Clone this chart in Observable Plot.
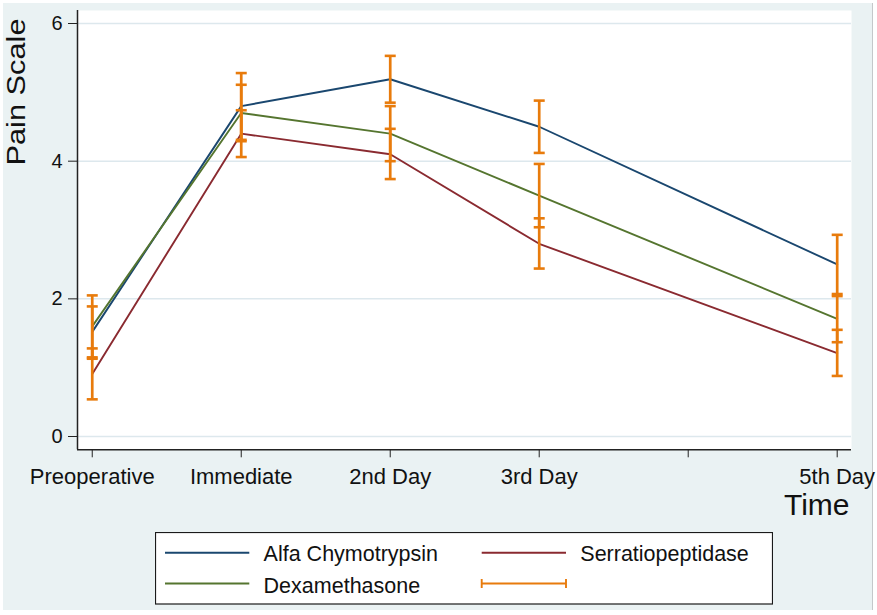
<!DOCTYPE html>
<html>
<head>
<meta charset="utf-8">
<script src="https://cdn.jsdelivr.net/npm/d3@7"></script>
<script src="https://cdn.jsdelivr.net/npm/@observablehq/plot@0.6"></script>
<style>
  html, body { margin: 0; padding: 0; background: #ffffff; }
  body { width: 877px; height: 615px; position: relative; overflow: hidden; font-family: "Liberation Sans", Arial, sans-serif; }
  #bg { position: absolute; left: 3px; top: 3px; width: 869px; height: 607px; background: #eaf2f3; border-right: 1px solid #c4c8ca; }
  #chart { position: absolute; left: 0; top: 0; }
  #legend { position: absolute; left: 155px; top: 532px; }
</style>
</head>
<body>
<div id="bg"></div>
<div id="chart"></div>
<div id="legend"></div>
<script>
// ---- data ----
const days = [0, 1, 2, 3, 5];
const tickDays = [0, 1, 2, 3, 4, 5];
const tickLabels = ["Preoperative", "Immediate", "2nd Day", "3rd Day", "", "5th Day"];
const yTicks = [0, 2, 4, 6];

const seriesNames = ["Alfa Chymotrypsin", "Serratiopeptidase", "Dexamethasone"];
const seriesColors = ["#1a476f", "#8a2a30", "#55752f"];
const errColor = "#e87b0c";

const alfaMean  = [1.52, 4.80, 5.19, 4.50, 2.50];
const alfaLow   = [1.15, 4.31, 4.85, 4.12, 2.07];
const alfaHigh  = [1.89, 5.28, 5.53, 4.88, 2.93];

const serraMean = [0.91, 4.40, 4.10, 2.80, 1.21];
const serraLow  = [0.54, 4.06, 3.74, 2.44, 0.88];
const serraHigh = [1.28, 4.74, 4.47, 3.17, 1.55];

const dexaMean  = [1.60, 4.70, 4.40, 3.50, 1.71];
const dexaLow   = [1.13, 4.29, 4.00, 3.04, 1.37];
const dexaHigh  = [2.05, 5.11, 4.80, 3.96, 2.04];

const means = [alfaMean, serraMean, dexaMean];
const lows = [alfaLow, serraLow, dexaLow];
const highs = [alfaHigh, serraHigh, dexaHigh];

// ---- tables ----
const rows = [];
seriesNames.forEach((name, s) => {
  days.forEach((d, i) => rows.push({series: name, day: d, mean: means[s][i], low: lows[s][i], high: highs[s][i]}));
});

const xDomain = [-0.099, 5.096];
const yDomain = [-0.193, 6.189];

const capSymbol = {
  draw(context, size) {
    const w = 5.5;
    context.moveTo(-w, 0);
    context.lineTo(w, 0);
  }
};

const lineMarks = seriesNames.map((name, s) =>
  Plot.line(rows.filter(r => r.series === name), {x: "day", y: "mean", stroke: seriesColors[s], strokeWidth: 1.9})
);

const plot = Plot.plot({
  width: 877,
  height: 530,
  marginLeft: 77,
  marginRight: 26,
  marginTop: 10,
  marginBottom: 80.7,
  style: {background: "transparent", fontFamily: "Liberation Sans, Arial, sans-serif", color: "#111"},
  x: {domain: xDomain},
  y: {domain: yDomain},
  marks: [
    Plot.frame({fill: "white", stroke: "none"}),
    Plot.ruleY(yTicks, {stroke: "#dde8ed", strokeWidth: 1.5}),
    Plot.ruleX([xDomain[0]], {stroke: "#222", strokeWidth: 1.5}),
    Plot.ruleY([yDomain[0]], {stroke: "#222", strokeWidth: 1.5}),
    ...lineMarks,
    Plot.ruleX(rows, {x: "day", y1: "low", y2: "high", stroke: errColor, strokeWidth: 2.7}),
    Plot.dot(rows, {x: "day", y: "low", symbol: capSymbol, r: 5, fill: "none", stroke: errColor, strokeWidth: 2.6}),
    Plot.dot(rows, {x: "day", y: "high", symbol: capSymbol, r: 5, fill: "none", stroke: errColor, strokeWidth: 2.6}),
    Plot.axisY({ticks: yTicks, tickFormat: d => String(d), tickSize: 9, tickPadding: 6, fontSize: 20, label: null, stroke: "#222"}),
    Plot.axisX({ticks: tickDays, tickFormat: d => tickLabels[tickDays.indexOf(d)], tickSize: 8, tickPadding: 10.4, fontSize: 22, label: null, stroke: "#222"}),
    Plot.text(["Time"], {frameAnchor: "bottom-right", text: d => d, textAnchor: "end", dx: -2, dy: 65, fontSize: 30, fill: "#111"}),
    Plot.text(["Pain Scale"], {frameAnchor: "top-left", text: d => d, rotate: -90, textAnchor: "end", dx: -71, dy: 8, fontSize: 26, fill: "#111"})
  ]
});
document.getElementById("chart").appendChild(plot);
d3.select(plot).selectAll("text").filter(function() { return this.textContent === "Pain Scale"; })
  .attr("textLength", 147).attr("lengthAdjust", "spacingAndGlyphs");

// ---- legend ----
const lg = d3.select("#legend").append("svg").attr("width", 618).attr("height", 73)
  .style("font-family", "Liberation Sans, Arial, sans-serif");
lg.append("rect").attr("x", 0.5).attr("y", 0.5).attr("width", 617).attr("height", 71.5)
  .attr("fill", "white").attr("stroke", "#1a1a1a").attr("stroke-width", 1.2);
const items = [
  {label: seriesNames[0], color: seriesColors[0], col: 0, row: 0, type: "line"},
  {label: seriesNames[1], color: seriesColors[1], col: 1, row: 0, type: "line"},
  {label: seriesNames[2], color: seriesColors[2], col: 0, row: 1, type: "line"},
  {label: "", color: errColor, col: 1, row: 1, type: "err"}
];
const colX = [10, 326.7];
const rowY = [20.7, 51.5];
const textBase = [28.7, 61.3];
items.forEach(it => {
  const x0 = colX[it.col], x1 = x0 + 84.3, y = rowY[it.row];
  lg.append("line").attr("x1", x0).attr("x2", x1).attr("y1", y).attr("y2", y)
    .attr("stroke", it.color).attr("stroke-width", 1.9);
  if (it.type === "err") {
    [x0, x1].forEach(cx => lg.append("line").attr("x1", cx).attr("x2", cx).attr("y1", y - 4.5).attr("y2", y + 4.5)
      .attr("stroke", it.color).attr("stroke-width", 1.9));
  }
  lg.append("text").attr("x", x1 + 14.3).attr("y", textBase[it.row]).attr("font-size", 21.5)
    .attr("fill", "#111").text(it.label);
});
</script>
</body>
</html>
